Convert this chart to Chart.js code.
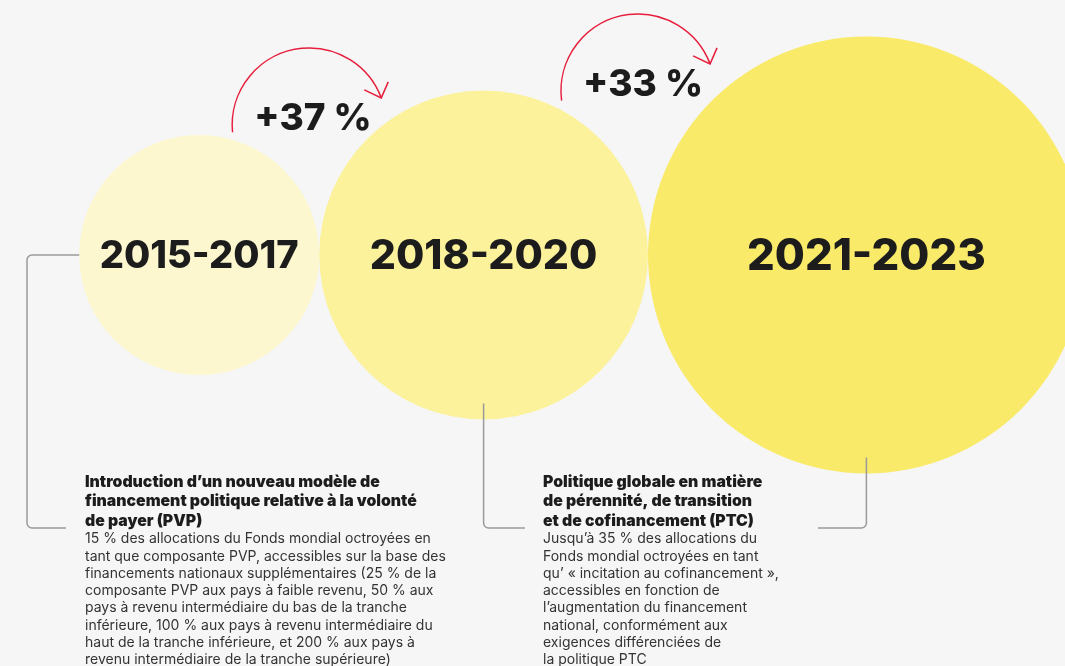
<!DOCTYPE html>
<html lang="fr">
<head>
<meta charset="utf-8">
<title>Allocations</title>
<script src="https://cdn.jsdelivr.net/npm/chart.js@4.4.1/dist/chart.umd.min.js"></script>
<style>
  html, body { margin: 0; padding: 0; background: #f6f6f6; }
  #wrap { width: 1065px; height: 666px; }
</style>
</head>
<body>
<div id="wrap"><canvas id="chart" width="1065" height="666"></canvas></div>
<script>
// ===== Data =====
const periods = ['2015-2017', '2018-2020', '2021-2023'];
const allocationIndex = [100, 137, 182];        // circle size, 2015-2017 = 100
const growthLabels = ['+37 %', '+33 %'];
const circleColors = ['#fcf7cf', '#fcf29b', '#f9ea6a'];
const periodFontSizes = [38, 41, 43.5];

const pvpTitle = [
  'Introduction d’un nouveau modèle de',
  'financement politique relative à la volonté',
  'de payer (PVP)',
];
const pvpBody = [
  '15 % des allocations du Fonds mondial octroyées en',
  'tant que composante PVP, accessibles sur la base des',
  'financements nationaux supplémentaires (25 % de la',
  'composante PVP aux pays à faible revenu, 50 % aux',
  'pays à revenu intermédiaire du bas de la tranche',
  'inférieure, 100 % aux pays à revenu intermédiaire du',
  'haut de la tranche inférieure, et 200 % aux pays à',
  'revenu intermédiaire de la tranche supérieure)',
];
const ptcTitle = [
  'Politique globale en matière',
  'de pérennité, de transition',
  'et de cofinancement (PTC)',
];
const ptcBody = [
  'Jusqu’à 35 % des allocations du',
  'Fonds mondial octroyées en tant',
  'qu’ « incitation au cofinancement »,',
  'accessibles en fonction de',
  'l’augmentation du financement',
  'national, conformément aux',
  'exigences différenciées de',
  'la politique PTC',
];

// ===== Layout (units of the x scale) =====
const canvasWidth = 1065;
const xMax = 887.5;
const pxPerUnit = canvasWidth / xMax;   // radius is in px, x scale in units
const leftGap = 66;

// circles sit side by side, each touching the next
const centers = [];
let cursor = leftGap;
allocationIndex.forEach(v => {
  cursor += v;
  centers.push(cursor);
  cursor += v;
});

const points = periods.map((p, i) => ({ x: centers[i], y: 0, r: allocationIndex[i] * pxPerUnit }));

const red = '#e61e3c';
const lineGray = '#9a9a9a';

function roundedPath(ctx, pts, r) {
  ctx.beginPath();
  ctx.moveTo(pts[0][0], pts[0][1]);
  for (let i = 1; i < pts.length - 1; i++) {
    ctx.arcTo(pts[i][0], pts[i][1], pts[i + 1][0], pts[i + 1][1], r);
  }
  const last = pts[pts.length - 1];
  ctx.lineTo(last[0], last[1]);
  ctx.stroke();
}

const decorPlugin = {
  id: 'decor',
  beforeDraw(chart) {
    const ctx = chart.ctx;
    ctx.save();
    ctx.fillStyle = '#f6f6f6';
    ctx.fillRect(0, 0, chart.width, chart.height);
    ctx.restore();
  },
  afterDatasetsDraw(chart) {
    const ctx = chart.ctx;
    const els = chart.getDatasetMeta(0).data;
    const c = els.map(e => ({ x: e.x, y: e.y, r: e.options.radius }));

    ctx.save();

    // period labels
    ctx.fillStyle = '#1c1c1c';
    ctx.textAlign = 'center';
    ctx.textBaseline = 'middle';
    c.forEach((p, i) => {
      ctx.font = `800 ${periodFontSizes[i]}px Inter, sans-serif`;
      ctx.fillText(periods[i], p.x, p.y + 2);
    });

    // growth arrows
    const arcCenters = [
      { x: c[0].x + c[0].r - 10, y: 125, start: Math.PI * 0.97 },
      { x: c[1].x + c[1].r - 10, y: 91, start: Math.PI * 0.96 },
    ];
    arcCenters.forEach((a, i) => {
      const R = 77;
      const end = Math.PI * 2 - 0.36;
      ctx.strokeStyle = red;
      ctx.lineWidth = 1.5;
      ctx.beginPath();
      ctx.arc(a.x, a.y, R, a.start, end);
      ctx.stroke();
      const tx = a.x + R * Math.cos(end);
      const ty = a.y + R * Math.sin(end);
      ctx.beginPath();
      ctx.moveTo(tx - 17, ty - 8);
      ctx.lineTo(tx, ty);
      ctx.lineTo(tx + 7, ty - 16);
      ctx.stroke();

      ctx.fillStyle = '#1c1c1c';
      ctx.font = '800 37px Inter, sans-serif';
      ctx.textAlign = 'left';
      ctx.textBaseline = 'middle';
      ctx.fillText(growthLabels[i], a.x - 55, a.y - 6);
    });

    // connectors
    const yLine = 528;
    ctx.strokeStyle = lineGray;
    ctx.lineWidth = 1.5;
    roundedPath(ctx, [[c[0].x - c[0].r, c[0].y], [27, c[0].y], [27, yLine], [66, yLine]], 5);
    roundedPath(ctx, [[c[1].x, c[1].y + c[1].r - 16], [c[1].x, yLine], [525, yLine]], 5);
    roundedPath(ctx, [[c[2].x, c[2].y + c[2].r - 16], [c[2].x, yLine], [818, yLine]], 5);

    // notes
    function note(x, title, body) {
      ctx.textAlign = 'left';
      ctx.textBaseline = 'middle';
      ctx.fillStyle = '#1c1c1c';
      ctx.font = '900 15.8px Inter, sans-serif';
      title.forEach((t, i) => ctx.fillText(t, x, 482 + i * 19.5));
      ctx.fillStyle = '#333333';
      ctx.font = '400 14px Inter, sans-serif';
      body.forEach((t, i) => ctx.fillText(t, x, 539 + i * 17.3));
    }
    note(85, pvpTitle, pvpBody);
    note(543, ptcTitle, ptcBody);

    ctx.restore();
  },
};

new Chart(document.getElementById('chart'), {
  type: 'bubble',
  data: {
    labels: periods,
    datasets: [{
      label: 'Allocations',
      data: points,
      backgroundColor: circleColors,
      borderWidth: 0,
      clip: false,
    }],
  },
  options: {
    responsive: false,
    animation: false,
    events: [],
    layout: { autoPadding: false, padding: { left: 0, right: 0, top: 0, bottom: 156 } },
    plugins: {
      legend: { display: false },
      tooltip: { enabled: false },
    },
    scales: {
      x: { display: false, min: 0, max: xMax },
      y: { display: false, min: -1, max: 1 },
    },
  },
  plugins: [decorPlugin],
});
</script>
</body>
</html>
